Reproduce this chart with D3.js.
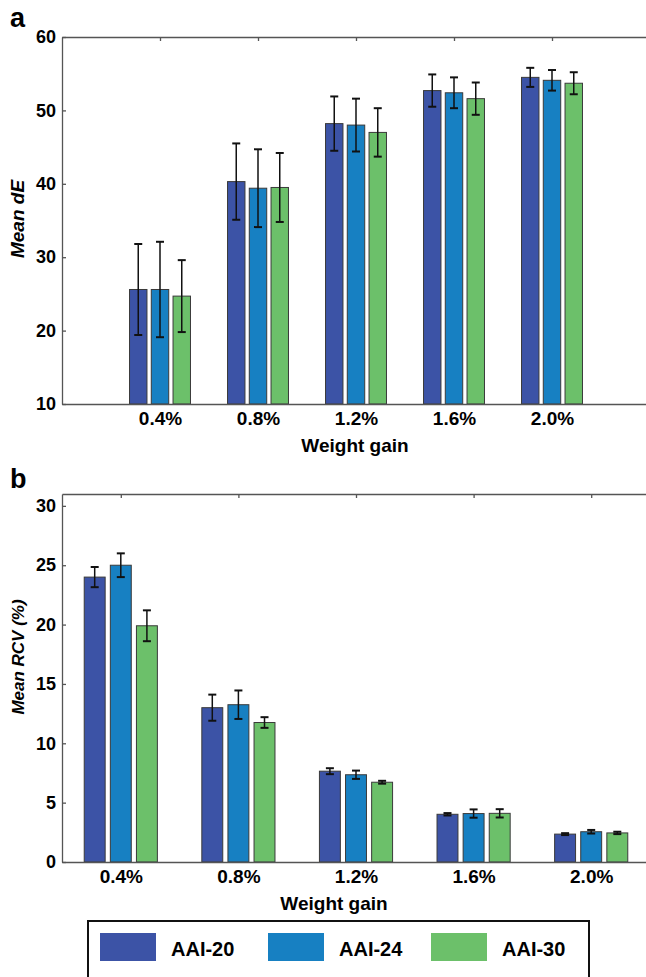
<!DOCTYPE html>
<html>
<head>
<meta charset="utf-8">
<script src="https://cdn.jsdelivr.net/npm/d3@7"></script>
<style>
  body { margin: 0; background: #fff; }
  svg { display: block; font-family: "Liberation Sans", Arial, sans-serif; }
  .tick text { font-weight: bold; }
</style>
</head>
<body>
<div class="chart"></div>
<script>
var categories = ["0.4%", "0.8%", "1.2%", "1.6%", "2.0%"];
var seriesNames = ["AAI-20", "AAI-24", "AAI-30"];
var colors = ["#3c53a6", "#1780c2", "#6cc06a"];

// panel a: Mean dE
var dE20 = [25.6, 40.3, 48.2, 52.7, 54.5];
var dE24 = [25.6, 39.4, 48.0, 52.4, 54.1];
var dE30 = [24.7, 39.5, 47.0, 51.6, 53.7];
var dEErr20 = [6.2, 5.2, 3.7, 2.2, 1.3];
var dEErr24 = [6.5, 5.3, 3.6, 2.1, 1.4];
var dEErr30 = [4.9, 4.7, 3.3, 2.2, 1.5];
var dETicks = [10, 20, 30, 40, 50, 60];

// panel b: Mean RCV (%)
var rcv20 = [24.0, 13.0, 7.65, 4.02, 2.35];
var rcv24 = [25.0, 13.25, 7.35, 4.08, 2.55];
var rcv30 = [19.9, 11.75, 6.72, 4.1, 2.45];
var rcvErr20 = [0.85, 1.1, 0.25, 0.1, 0.08];
var rcvErr24 = [1.0, 1.2, 0.35, 0.35, 0.15];
var rcvErr30 = [1.3, 0.45, 0.12, 0.35, 0.1];
var rcvTicks = [0, 5, 10, 15, 20, 25, 30];

var W = 646, H = 977;
var svg = d3.select(".chart").append("svg")
    .attr("width", W)
    .attr("height", H);

function panel(opts) {
  var x = d3.scaleLinear().domain(opts.xDomain).range([62, 650]);
  var y = d3.scaleLinear().domain(opts.yDomain).range([opts.bottom, opts.top]);
  var g = svg.append("g");

  var offset = 0.222, bw = 0.178;
  var pxW = x(bw) - x(0);

  var series = [opts.v20, opts.v24, opts.v30];
  var errs = [opts.e20, opts.e24, opts.e30];

  series.forEach(function(vals, s) {
    var data = vals.map(function(v, i) {
      return {cx: i + 1 + (s - 1) * offset, v: v, e: errs[s][i]};
    });
    g.selectAll(".bar" + s).data(data).enter().append("rect")
      .attr("x", function(d) { return x(d.cx) - pxW / 2; })
      .attr("y", function(d) { return y(d.v); })
      .attr("width", pxW)
      .attr("height", function(d) { return y(opts.yDomain[0]) - y(d.v); })
      .attr("fill", colors[s])
      .attr("stroke", "#3a3a3a")
      .attr("stroke-width", 1);

    var eb = g.selectAll(".err" + s).data(data).enter().append("g")
      .attr("stroke", "#111")
      .attr("stroke-width", 1.5);
    eb.append("line")
      .attr("x1", function(d) { return x(d.cx); })
      .attr("x2", function(d) { return x(d.cx); })
      .attr("y1", function(d) { return y(d.v + d.e); })
      .attr("y2", function(d) { return y(d.v - d.e); });
    [1, -1].forEach(function(sign) {
      eb.append("line")
        .attr("stroke-width", 2)
        .attr("x1", function(d) { return x(d.cx) - 4; })
        .attr("x2", function(d) { return x(d.cx) + 4; })
        .attr("y1", function(d) { return y(d.v + sign * d.e); })
        .attr("y2", function(d) { return y(d.v + sign * d.e); });
    });
  });

  // axes box
  var yAxis = d3.axisLeft(y).tickValues(opts.yTicks).tickSizeInner(-4).tickSizeOuter(0).tickPadding(6);
  var yAx = g.append("g").attr("transform", "translate(62,0)").call(yAxis);
  yAx.selectAll("text").style("font-size", "18px");

  var yRight = d3.axisRight(y).tickValues(opts.yTicks).tickSizeInner(-4).tickSizeOuter(0).tickFormat("");
  g.append("g").attr("transform", "translate(650,0)").call(yRight);

  var xAxis = d3.axisBottom(x).tickValues([1, 2, 3, 4, 5]).tickSizeInner(0).tickSizeOuter(0).tickPadding(8)
    .tickFormat(function(d) { return categories[d - 1]; });
  var xAx = g.append("g").attr("transform", "translate(0," + opts.bottom + ")").call(xAxis);
  xAx.selectAll("text").style("font-size", "19px");

  var xTop = d3.axisTop(x).tickValues([1, 2, 3, 4, 5]).tickSizeInner(-4).tickSizeOuter(0).tickFormat("");
  g.append("g").attr("transform", "translate(0," + opts.top + ")").call(xTop);

  g.selectAll(".domain, .tick line").attr("stroke", "#555").attr("stroke-width", 1.3);

  g.append("text")
    .attr("x", opts.xLabelX)
    .attr("y", opts.bottom + 48)
    .attr("text-anchor", "middle")
    .attr("font-weight", "bold")
    .attr("font-size", "19px")
    .text("Weight gain");

  g.append("text")
    .attr("transform", "translate(24," + opts.yLabelY + ") rotate(-90)")
    .attr("text-anchor", "middle")
    .attr("font-weight", "bold")
    .attr("font-style", "italic")
    .attr("font-size", opts.yLabelSize)
    .text(opts.yLabel);

  g.append("text")
    .attr("x", 10)
    .attr("y", opts.letterY)
    .attr("font-weight", "bold")
    .attr("font-size", "27px")
    .text(opts.letter);
}

panel({
  xDomain: [0, 6], yDomain: [10, 60], yTicks: dETicks,
  top: 37, bottom: 404,
  v20: dE20, v24: dE24, v30: dE30, e20: dEErr20, e24: dEErr24, e30: dEErr30,
  xLabelX: 355, yLabel: "Mean dE", yLabelY: 219, yLabelSize: "19px", letter: "a", letterY: 27
});

panel({
  xDomain: [0.5, 5.5], yDomain: [0, 31], yTicks: rcvTicks,
  top: 494, bottom: 862,
  v20: rcv20, v24: rcv24, v30: rcv30, e20: rcvErr20, e24: rcvErr24, e30: rcvErr30,
  xLabelX: 334, yLabel: "Mean RCV (%)", yLabelY: 657, yLabelSize: "17px", letter: "b", letterY: 488
});

// legend
var legend = svg.append("g");
legend.append("rect")
  .attr("x", 88).attr("y", 921)
  .attr("width", 501).attr("height", 70)
  .attr("fill", "none")
  .attr("stroke", "#111")
  .attr("stroke-width", 2);

var legX = [100, 268, 431];
var items = legend.selectAll(".leg").data(seriesNames).enter().append("g")
  .attr("transform", function(d, i) { return "translate(" + legX[i] + ",933)"; });
items.append("rect")
  .attr("width", 56).attr("height", 28)
  .attr("fill", function(d, i) { return colors[i]; });
items.append("text")
  .attr("x", 71).attr("y", 23)
  .attr("font-weight", "bold")
  .attr("font-size", "20px")
  .text(function(d) { return d; });
</script>
</body>
</html>
